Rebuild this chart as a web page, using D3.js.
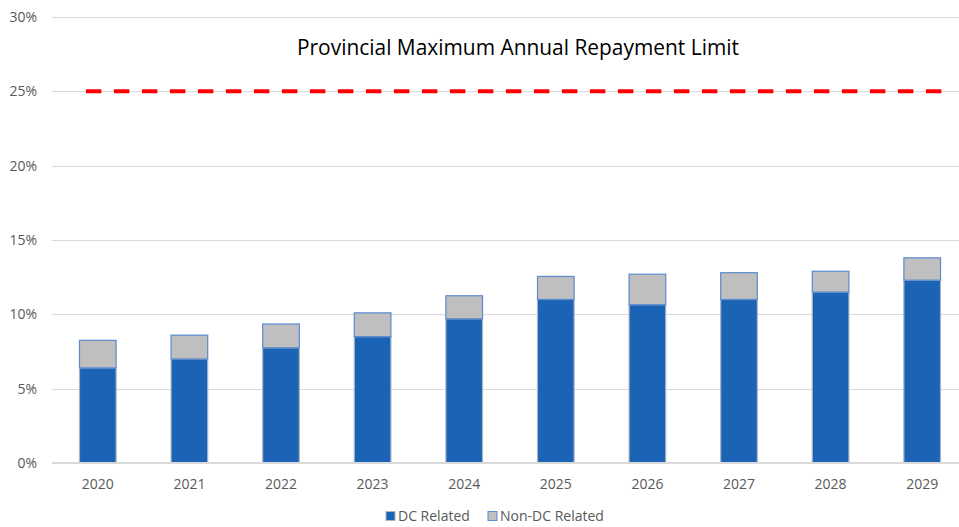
<!DOCTYPE html>
<html>
<head>
<meta charset="utf-8">
<script src="https://cdn.jsdelivr.net/npm/d3@7"></script>
<style>
  body { margin: 0; background: #fff; }
  svg { display: block; font-family: "Open Sans", "Noto Sans", sans-serif; }
</style>
</head>
<body>
<div id="chart"></div>
<script>
var years = ["2020", "2021", "2022", "2023", "2024", "2025", "2026", "2027", "2028", "2029"]
// percent values
var dcRelated = [6.4, 7.0, 7.75, 8.5, 9.7, 11.0, 10.65, 11.0, 11.5, 12.3]
var nonDcRelated = [1.85, 1.6, 1.6, 1.6, 1.55, 1.55, 2.05, 1.8, 1.4, 1.5]
var limitValue = 25
var yTicks = [0, 5, 10, 15, 20, 25, 30]
var seriesNames = ["DC Related", "Non-DC Related"]

var width = 959
var height = 527
var margin = {top: 17, right: -9, bottom: 64, left: 52}

var svg = d3.select("#chart")
  .append("svg")
  .attr("width", width)
  .attr("height", height)

var x = d3.scaleBand()
  .domain(years)
  .range([margin.left, width - margin.right])
  .paddingInner(0.6)
  .paddingOuter(0.3)

var y = d3.scaleLinear()
  .domain([0, 30])
  .range([height - margin.bottom, margin.top])

// gridlines
svg.append("g")
  .selectAll("line")
  .data(yTicks.slice(1))
  .enter().append("line")
    .attr("x1", margin.left)
    .attr("x2", width)
    .attr("y1", function(d) { return Math.round(y(d)) + 0.5 })
    .attr("y2", function(d) { return Math.round(y(d)) + 0.5 })
    .attr("stroke", "#d9d9d9")
    .attr("stroke-width", 1)

// y labels
svg.append("g")
  .selectAll("text")
  .data(yTicks)
  .enter().append("text")
    .attr("x", 37)
    .attr("y", function(d) { return y(d) })
    .attr("dy", "0.35em")
    .attr("text-anchor", "end")
    .attr("fill", "#595959")
    .attr("font-size", 14)
    .text(function(d) { return d + "%" })

var stacked = years.map(function(yr, i) {
  return {year: yr, dc: dcRelated[i], non: nonDcRelated[i]}
})

var bars = svg.append("g")
  .selectAll("g")
  .data(stacked)
  .enter().append("g")

bars.append("rect")
  .attr("x", function(d) { return x(d.year) })
  .attr("width", x.bandwidth())
  .attr("y", function(d) { return y(d.dc) })
  .attr("height", function(d) { return y(0) - y(d.dc) })
  .attr("fill", "#1b63b5")
  .attr("stroke", "#a9b4c4")
  .attr("stroke-width", 1.2)

bars.append("rect")
  .attr("x", function(d) { return x(d.year) })
  .attr("width", x.bandwidth())
  .attr("y", function(d) { return y(d.dc + d.non) })
  .attr("height", function(d) { return y(d.dc) - y(d.dc + d.non) })
  .attr("fill", "#bfbfbf")
  .attr("stroke", "#5b8bd0")
  .attr("stroke-width", 1.2)

// x axis
var xAxis = svg.append("g")
  .attr("transform", "translate(0," + y(0) + ")")
  .call(d3.axisBottom(x).tickSize(0).tickPadding(16))
xAxis.select(".domain")
  .attr("d", "M" + margin.left + ",0H" + width)
  .attr("stroke", "#d9d9d9")
  .attr("stroke-width", 2)
xAxis.selectAll("text")
  .attr("fill", "#595959")
  .attr("font-size", 14)
  .attr("font-family", "'Open Sans', sans-serif")

// limit line, spans a bit past the first and last bar centres
var xl = d3.scaleLinear()
  .domain([2020, 2029])
  .range([x("2020") + x.bandwidth() / 2, x("2029") + x.bandwidth() / 2])
svg.append("line")
  .attr("x1", xl(2019.87))
  .attr("x2", xl(2029.21))
  .attr("y1", y(limitValue))
  .attr("y2", y(limitValue))
  .attr("stroke", "#ff0000")
  .attr("stroke-width", 4)
  .attr("stroke-dasharray", "15.5,12.5")

// title
svg.append("text")
  .attr("x", 518)
  .attr("y", 55)
  .attr("text-anchor", "middle")
  .attr("fill", "#000")
  .attr("font-size", 21)
  .attr("textLength", 442)
  .attr("lengthAdjust", "spacingAndGlyphs")
  .text("Provincial Maximum Annual Repayment Limit")

// legend
var legend = svg.append("g")
  .attr("transform", "translate(386,516)")
var items = legend.selectAll("g")
  .data(seriesNames)
  .enter().append("g")
    .attr("transform", function(d, i) { return "translate(" + (i * 102) + ",0)" })
items.append("rect")
  .attr("x", 0)
  .attr("y", -4.5)
  .attr("width", 9)
  .attr("height", 9)
  .attr("fill", function(d, i) { return i == 0 ? "#1b63b5" : "#bfbfbf" })
  .attr("stroke", function(d, i) { return i == 0 ? "#a9b4c4" : "#5b8bd0" })
items.append("text")
  .attr("x", 12)
  .attr("y", 0)
  .attr("dy", "0.35em")
  .attr("fill", "#595959")
  .attr("font-size", 14)
  .text(function(d) { return d })
</script>
</body>
</html>
